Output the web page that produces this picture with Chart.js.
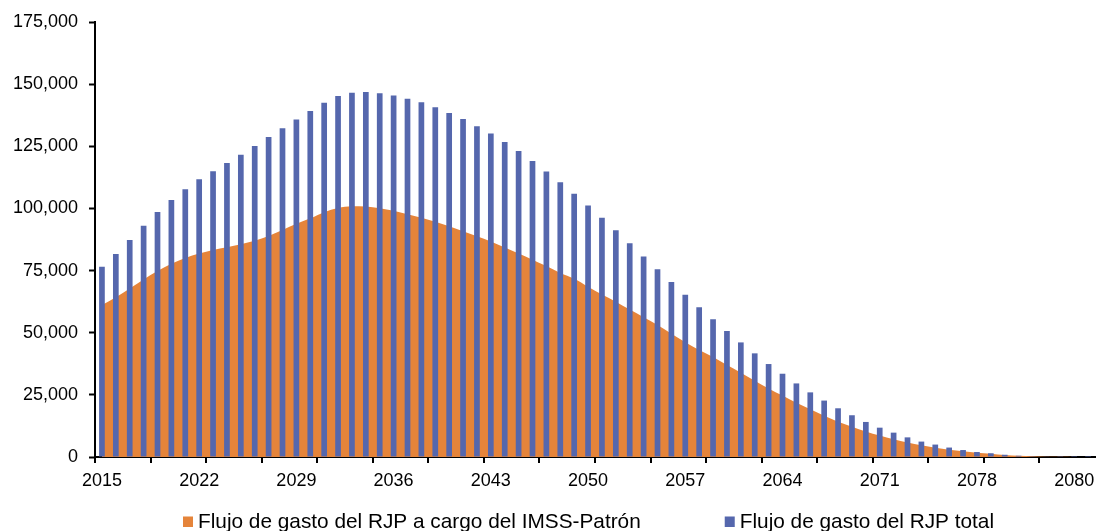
<!DOCTYPE html>
<html>
<head>
<meta charset="utf-8">
<script src="https://cdn.jsdelivr.net/npm/chart.js@4.4.1/dist/chart.umd.min.js"></script>
<style>
html,body{margin:0;padding:0;background:#fff;}
#wrap{width:1098px;height:531px;position:relative;}
</style>
</head>
<body>
<div id="wrap"><canvas id="c" width="1098" height="531"></canvas></div>
<script>
// Categories (one per projection year slot)
const categories = ['2015','2016','2017','2018','2019','2020','2021','2022','2023','2024','2025','2026','2027','2028','2029','2030','2031','2032','2033','2034','2035','2036','2037','2038','2039','2040','2041','2042','2043','2044','2045','2046','2047','2048','2049','2050','2051','2052','2053','2054','2055','2056','2057','2058','2059','2060','2061','2062','2063','2064','2065','2066','2067','2068','2069','2070','2071','2072','2073','2074','2075','2076','2077','2078','2079','2080','2081','2082','2083','2084','2085','2086'];

// Tick labels shown on the x axis (every 7th category)
const tickLabels = ['2015','2022','2029','2036','2043','2050','2057','2064','2071','2078','2080'];

// Flujo de gasto del RJP total (bars)
const totalRJP = [76500,81700,87300,93000,98600,103400,107700,111700,115000,118300,121600,125100,128700,132300,135800,139200,142500,145200,146500,146800,146300,145400,144100,142700,140700,138400,136000,133100,130100,126700,123100,119100,114900,110500,105900,101200,96300,91200,86000,80700,75500,70400,65300,60200,55400,50700,46100,41700,37400,33500,29600,26000,22700,19600,16800,14100,11800,9800,7900,6200,5000,3800,2800,2000,1500,900,500,300,150,80,40,20];

// Flujo de gasto del RJP a cargo del IMSS-Patrón (area)
const imssPatron = [61100,64300,67800,71400,74800,77700,80100,81900,83300,84400,85600,87000,88900,91300,93800,96000,98500,100200,100900,100800,100100,99100,97700,96200,94600,92800,90800,88800,86700,84300,81900,79400,76800,74000,71700,68500,65400,62500,59300,56200,53100,49600,46200,43000,40200,37000,33900,30700,27600,24700,21800,19200,16600,14200,12200,10300,8600,7100,5800,4700,3700,2900,2300,1700,1300,800,500,300,150,80,40,20];

const yTicks = [0,25000,50000,75000,100000,125000,150000,175000];

const seriesLabels = ['Flujo de gasto del RJP a cargo del IMSS-Patrón','Flujo de gasto del RJP total'];
const ORANGE = '#E5843A';
const BLUE = '#5567AD';
const FONT = '"Liberation Sans", Arial, Helvetica, sans-serif';

const bottomLegend = {
  id: 'bottomLegend',
  afterDraw(chart) {
    const ctx = chart.ctx;
    const area = chart.chartArea;
    const box = 10, gap = 5, between = 84;
    ctx.save();
    ctx.font = '20.8px ' + FONT;
    ctx.textBaseline = 'alphabetic';
    ctx.textAlign = 'left';
    const items = chart.data.datasets.map(ds => ({text: ds.label, color: ds.backgroundColor}));
    const widths = items.map(it => box + gap + ctx.measureText(it.text).width);
    let x = area.left + 88;
    const baseline = 527.5;
    items.forEach((it, i) => {
      ctx.fillStyle = it.color;
      ctx.fillRect(x, baseline - 11, box, box + 0.5);
      ctx.fillStyle = '#000';
      ctx.fillText(it.text, x + box + gap, baseline);
      x += widths[i] + between;
    });
    ctx.restore();
  }
};

new Chart(document.getElementById('c'), {
  data: {
    labels: categories,
    datasets: [
      {
        type: 'line',
        label: seriesLabels[0],
        data: imssPatron,
        backgroundColor: ORANGE,
        borderColor: ORANGE,
        borderWidth: 0,
        pointRadius: 0,
        fill: 'origin',
        cubicInterpolationMode: 'monotone',
        order: 2
      },
      {
        type: 'bar',
        label: seriesLabels[1],
        data: totalRJP,
        backgroundColor: BLUE,
        borderWidth: 0,
        barPercentage: 0.41,
        categoryPercentage: 1.0,
        order: 1
      }
    ]
  },
  options: {
    responsive: false,
    animation: false,
    devicePixelRatio: 1,
    layout: { padding: { left: 0, right: 3, top: 22, bottom: 40 } },
    plugins: {
      legend: { display: false },
      tooltip: { enabled: false },
      title: { display: false }
    },
    scales: {
      x: {
        type: 'category',
        offset: true,
        grid: {
          display: true,
          offset: true,
          drawOnChartArea: false,
          drawTicks: true,
          tickLength: 6,
          tickWidth: 2,
          lineWidth: 2,
          color: ctx => (ctx.index % 4 === 0 ? '#000' : 'rgba(0,0,0,0)')
        },
        border: { display: true, color: '#000', width: 2 },
        ticks: {
          autoSkip: false,
          maxRotation: 0,
          minRotation: 0,
          padding: 7,
          color: '#000',
          font: { size: 18, family: FONT },
          callback: (val, index) => (index % 7 === 0 && tickLabels[index / 7] !== undefined ? tickLabels[index / 7] : '')
        },
        afterFit: s => { s.height = 34; }
      },
      y: {
        min: 0,
        max: 175000,
        afterBuildTicks: s => { s.ticks = yTicks.map(v => ({ value: v })); },
        grid: {
          display: true,
          drawOnChartArea: false,
          drawTicks: true,
          tickLength: 6,
          tickWidth: 2,
          color: '#000'
        },
        border: { display: true, color: '#000', width: 2 },
        ticks: {
          padding: 11,
          color: '#000',
          font: { size: 18, family: FONT },
          callback: v => Number(v).toLocaleString('en-US')
        },
        afterFit: s => { s.width = 95; }
      }
    }
  },
  plugins: [bottomLegend]
});
</script>
</body>
</html>
